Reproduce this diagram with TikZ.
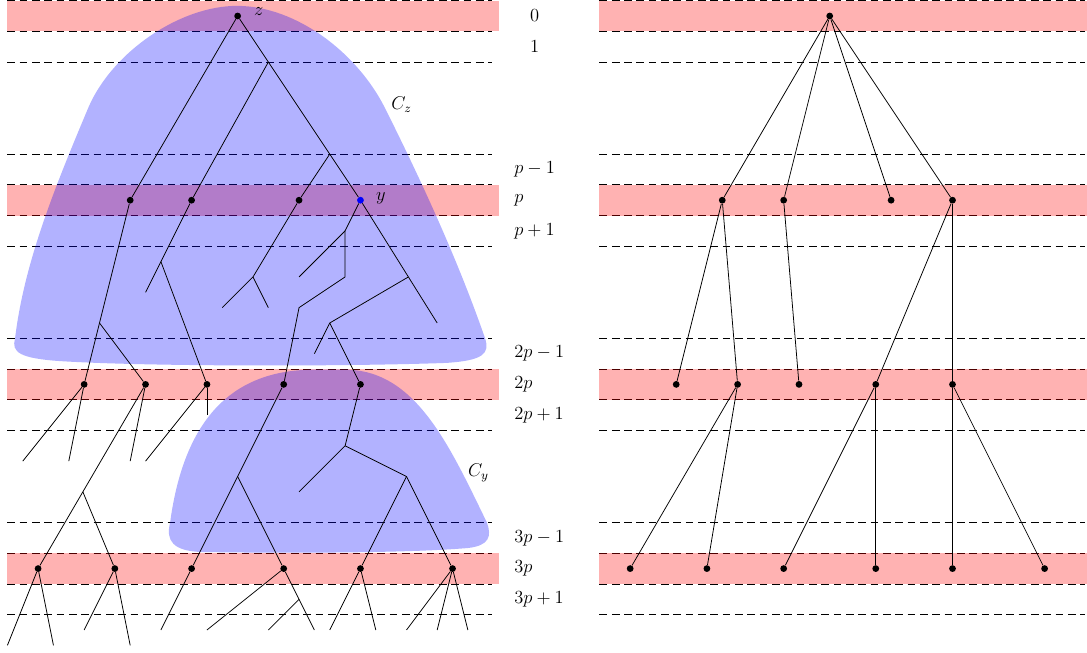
\documentclass[tikz,border=0pt]{standalone}
\begin{document}
\begin{tikzpicture}[x=0.7cm,y=-0.7cm,
  dot/.style={circle,fill=black,inner sep=0pt,minimum size=4.4pt},
  bdot/.style={circle,fill=blue,inner sep=0pt,minimum size=4.4pt},
  edge/.style={line width=0.5pt},
  levelline/.style={line width=0.5pt,dash pattern=on 5pt off 3pt},
  band/.style={fill=red,opacity=0.3},
  blob/.style={fill=blue,opacity=0.3},
  lab/.style={anchor=west,inner sep=0pt,font=\large},
  blab/.style={anchor=base west,inner sep=0pt,font=\large}]
\useasboundingbox (-0.241,-0.521) rectangle (35.167,20.749);

% levels and bands, both halves
\foreach \s in {0,19.2857}{
  \foreach \yy in {-0.5,0.5,1.5,4.5,5.5,6.5,7.5,10.5,11.5,12.5,13.5,16.5,17.5,18.5,19.5}
    \draw[levelline] (\s,\yy) -- ++(15.8,0);
  \foreach \yy in {0,6,12,18}
    \fill[band] (\s,\yy-0.5) rectangle ++(16,1);
}

% clusters
\fill[blob] (0.25,10.5) .. controls (0.55,8) and (1.58,5.5) .. (2.63,3)
  .. controls (3.39,1.2) and (5.6,-0.33) .. (7.48,-0.33)
  .. controls (9.4,-0.33) and (11.4,1.2) .. (12.3,3)
  .. controls (13.55,5.5) and (14.69,8) .. (15.56,10.5)
  .. controls (15.72,11.0) and (15.5,11.22) .. (14.3,11.3)
  .. controls (11,11.42) and (4.5,11.42) .. (1.7,11.24)
  .. controls (0.4,11.15) and (0.12,10.95) .. (0.25,10.5) -- cycle;
\fill[blob] (5.3,16.5) .. controls (5.8,12.8) and (7.6,11.52) .. (10,11.52)
  -- (11,11.52)
  .. controls (13.3,11.52) and (14.4,14) .. (15.62,16.5)
  .. controls (15.78,16.95) and (15.7,17.25) .. (15.0,17.33)
  .. controls (13,17.5) and (9,17.5) .. (6.3,17.46)
  .. controls (5.4,17.42) and (5.15,17.1) .. (5.3,16.5) -- cycle;

% ---------- left tree ----------
\node[dot] (z) at (7.5,0) {};
\coordinate (a1) at (8.5,1.5);
\coordinate (a2) at (10.5,4.5);
\node[dot] (p1) at (4,6) {};
\node[dot] (p2) at (6,6) {};
\node[dot] (p3) at (9.5,6) {};
\node[bdot] (y) at (11.5,6) {};
\node[dot] (q1) at (2.5,12) {};
\node[dot] (q2) at (4.5,12) {};
\node[dot] (q3) at (6.5,12) {};
\node[dot] (q4) at (9,12) {};
\node[dot] (q5) at (11.5,12) {};
\node[dot] (r1) at (1,18) {};
\node[dot] (r2) at (3.5,18) {};
\node[dot] (r3) at (6,18) {};
\node[dot] (r4) at (9,18) {};
\node[dot] (r5) at (11.5,18) {};
\node[dot] (r6) at (14.5,18) {};

\coordinate (b1) at (11,7);
\coordinate (b2) at (11,8.5);
\coordinate (l1) at (9.5,8.5);
\coordinate (b3) at (9.5,9.5);
\coordinate (b4) at (13.0625,8.5);
\coordinate (l2) at (14,10);
\coordinate (b5) at (10.5,10);
\coordinate (l3) at (10,11);
\coordinate (b6) at (8,8.5);
\coordinate (l4) at (7,9.5);
\coordinate (l5) at (8.5,9.5);
\coordinate (b7) at (5,8);
\coordinate (l6) at (4.5,9);
\coordinate (b8) at (3,10);

\coordinate (m1) at (0.5,14.5);
\coordinate (m2) at (2,14.5);
\coordinate (m3) at (4,14.5);
\coordinate (b9) at (2.4583,15.5);
\coordinate (m4) at (4.5,14.5);
\coordinate (m5) at (6.5,13);
\coordinate (b10) at (7.5,15);
\coordinate (b11) at (11,14);
\coordinate (m6) at (9.5,15.5);
\coordinate (b12) at (13,15);

\coordinate (n1) at (0,20.5);
\coordinate (n2) at (1.5,20.5);
\coordinate (n3) at (2.5,20);
\coordinate (n4) at (4,20.5);
\coordinate (n5) at (5,20);
\coordinate (n6) at (6.5,20);
\coordinate (b13) at (9.5,19);
\coordinate (n7) at (10,20);
\coordinate (n8) at (8.5,20);
\coordinate (n9) at (10.5,20);
\coordinate (n10) at (12,20);
\coordinate (n11) at (13,20);
\coordinate (n12) at (14,20);
\coordinate (n13) at (15,20);

\draw[edge] (z) -- (a1) -- (a2) -- (y);
\draw[edge] (z) -- (p1);
\draw[edge] (a1) -- (p2);
\draw[edge] (a2) -- (p3);
\draw[edge] (y) -- (b1) -- (b2) -- (b3) -- (q4);
\draw[edge] (b1) -- (l1);
\draw[edge] (y) -- (b4) -- (l2);
\draw[edge] (b4) -- (b5) -- (l3);
\draw[edge] (b5) -- (q5);
\draw[edge] (p3) -- (b6) -- (l4);
\draw[edge] (b6) -- (l5);
\draw[edge] (p2) -- (b7) -- (l6);
\draw[edge] (b7) -- (q3);
\draw[edge] (p1) -- (b8) -- (q1);
\draw[edge] (b8) -- (q2);

\draw[edge] (q1) -- (m1);
\draw[edge] (q1) -- (m2);
\draw[edge] (q2) -- (m3);
\draw[edge] (q2) -- (b9) -- (r1);
\draw[edge] (b9) -- (r2);
\draw[edge] (q3) -- (m4);
\draw[edge] (q3) -- (m5);
\draw[edge] (q4) -- (b10) -- (r3);
\draw[edge] (b10) -- (r4);
\draw[edge] (q5) -- (b11) -- (m6);
\draw[edge] (b11) -- (b12) -- (r5);
\draw[edge] (b12) -- (r6);

\draw[edge] (r1) -- (n1);
\draw[edge] (r1) -- (n2);
\draw[edge] (r2) -- (n3);
\draw[edge] (r2) -- (n4);
\draw[edge] (r3) -- (n5);
\draw[edge] (r4) -- (n6);
\draw[edge] (r4) -- (b13) -- (n7);
\draw[edge] (b13) -- (n8);
\draw[edge] (r5) -- (n9);
\draw[edge] (r5) -- (n10);
\draw[edge] (r6) -- (n11);
\draw[edge] (r6) -- (n12);
\draw[edge] (r6) -- (n13);

\node[blab] (zl) at (8.03,0) {$z$};
\node[blab] (yl) at (12.0,6) {$y$};
\node[blab] (czl) at (12.5,3.04) {$C_z$};
\node[blab] (cyl) at (15,15) {$C_y$};

% level labels
\node[lab] (t0) at (17.02,0) {$0$};
\node[lab] (t1) at (17.02,1) {$1$};
\node[lab] (t2) at (16.5,5) {$p-1$};
\node[lab] (t3) at (16.5,6) {$p$};
\node[lab] (t4) at (16.5,7) {$p+1$};
\node[lab] (t5) at (16.5,11) {$2p-1$};
\node[lab] (t6) at (16.5,12) {$2p$};
\node[lab] (t7) at (16.5,13) {$2p+1$};
\node[lab] (t8) at (16.5,17) {$3p-1$};
\node[lab] (t9) at (16.5,18) {$3p$};
\node[lab] (t10) at (16.5,19) {$3p+1$};

% ---------- right tree ----------
\begin{scope}[xshift=13.5cm]
\node[dot] (Rz) at (7.5,0) {};
\node[dot] (Rp1) at (4,6) {};
\node[dot] (Rp2) at (6,6) {};
\node[dot] (Rp3) at (9.5,6) {};
\node[dot] (Rp4) at (11.5,6) {};
\node[dot] (Rq1) at (2.5,12) {};
\node[dot] (Rq2) at (4.5,12) {};
\node[dot] (Rq3) at (6.5,12) {};
\node[dot] (Rq4) at (9,12) {};
\node[dot] (Rq5) at (11.5,12) {};
\node[dot] (Rr1) at (1,18) {};
\node[dot] (Rr2) at (3.5,18) {};
\node[dot] (Rr3) at (6,18) {};
\node[dot] (Rr4) at (9,18) {};
\node[dot] (Rr5) at (11.5,18) {};
\node[dot] (Rr6) at (14.5,18) {};
\draw[edge] (Rz) -- (Rp1);
\draw[edge] (Rz) -- (Rp2);
\draw[edge] (Rz) -- (Rp3);
\draw[edge] (Rz) -- (Rp4);
\draw[edge] (Rp1) -- (Rq1);
\draw[edge] (Rp1) -- (Rq2);
\draw[edge] (Rp2) -- (Rq3);
\draw[edge] (Rp4) -- (Rq4);
\draw[edge] (Rp4) -- (Rq5);
\draw[edge] (Rq2) -- (Rr1);
\draw[edge] (Rq2) -- (Rr2);
\draw[edge] (Rq4) -- (Rr3);
\draw[edge] (Rq4) -- (Rr4);
\draw[edge] (Rq5) -- (Rr5);
\draw[edge] (Rq5) -- (Rr6);
\end{scope}
\end{tikzpicture}
\end{document}
